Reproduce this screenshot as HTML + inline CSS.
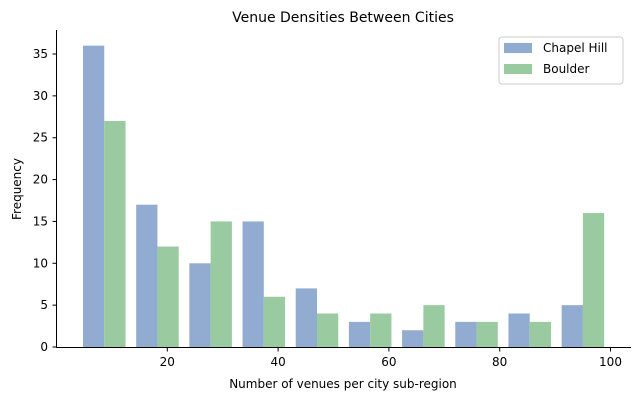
<!DOCTYPE html>
<html><head><meta charset="utf-8"><style>
body{margin:0;background:#fff;font-family:"Liberation Sans","DejaVu Sans",sans-serif}
svg text{font-family:"DejaVu Sans","Liberation Sans",sans-serif;fill:#000}
</style></head><body>
<svg id="c" width="640" height="400" xmlns="http://www.w3.org/2000/svg">
<text x="343" y="22" font-size="14" text-anchor="middle">Venue Densities Between Cities</text>
<g id="bars"></g>
<g id="axes"></g>
<text x="343" y="388" font-size="12" text-anchor="middle" id="xt">Number of venues per city sub-region</text>
<text transform="translate(21,189) rotate(-90)" font-size="12" text-anchor="middle">Frequency</text>
<g>
<rect x="499" y="37" width="124" height="47" rx="3" fill="#fff" stroke="#ccc"/>
<rect x="504" y="43" width="28" height="10" fill="#92abd0"/>
<text x="543" y="52" font-size="12">Chapel Hill</text>
<rect x="504" y="64" width="28" height="10" fill="#9acaa0"/>
<text x="543" y="73" font-size="12">Boulder</text>
</g>
</svg>
<script>
const binStarts=[3.82,13.42,23.02,32.62,42.22,51.82,61.42,71.02,80.62,90.22];
const binWidth=9.6;
const chapelHill=[36,17,10,15,7,3,2,3,4,5];
const boulder=[27,12,15,6,4,4,5,3,3,16];
const xTicks=[20,40,60,80,100];
const yTicks=[0,5,10,15,20,25,30,35];
const NS="http://www.w3.org/2000/svg";
const X=v=>56.5+5.54*v;
const Y=v=>347-8.371*v;
const bars=document.getElementById('bars');
function rect(x,y,w,h,fill){const r=document.createElementNS(NS,'rect');r.setAttribute('x',x);r.setAttribute('y',y);r.setAttribute('width',w);r.setAttribute('height',h);r.setAttribute('fill',fill);return r;}
binStarts.forEach((e,i)=>{
  const bw=binWidth*0.4;
  const x1=X(e+binWidth*0.1), x2=X(e+binWidth*0.1+bw), x3=X(e+binWidth*0.1+2*bw);
  const a=rect(x1,Y(chapelHill[i]),x2-x1,Y(0)-Y(chapelHill[i]),'#92abd0');
  
  
  bars.appendChild(a);
  const b=rect(x2,Y(boulder[i]),x3-x2,Y(0)-Y(boulder[i]),'#9acaa0');
  
  
  bars.appendChild(b);
});
const ax=document.getElementById('axes');
function line(x1,y1,x2,y2){const l=document.createElementNS(NS,'line');l.setAttribute('x1',x1);l.setAttribute('y1',y1);l.setAttribute('x2',x2);l.setAttribute('y2',y2);l.setAttribute('stroke','#000');l.setAttribute('stroke-width','1');return l;}
const ls=line(56.5,30,56.5,347.5);ax.appendChild(ls);
const bs=line(56,347.5,631,347.5);ax.appendChild(bs);
xTicks.forEach(t=>{const x=X(t);ax.appendChild(line(x,347.5,x,351.5));
  const tx=document.createElementNS(NS,'text');tx.setAttribute('x',x);tx.setAttribute('y',366);tx.setAttribute('font-size','12');tx.setAttribute('text-anchor','middle');tx.textContent=t;
  
  
  ax.appendChild(tx);});
yTicks.forEach(t=>{const y=Y(t);ax.appendChild(line(52.5,y,56.5,y));
  const tx=document.createElementNS(NS,'text');tx.setAttribute('x',48);tx.setAttribute('y',y+4);tx.setAttribute('font-size','12');tx.setAttribute('text-anchor','end');tx.textContent=t;
  
  
  ax.appendChild(tx);});
</script>
</body></html>
